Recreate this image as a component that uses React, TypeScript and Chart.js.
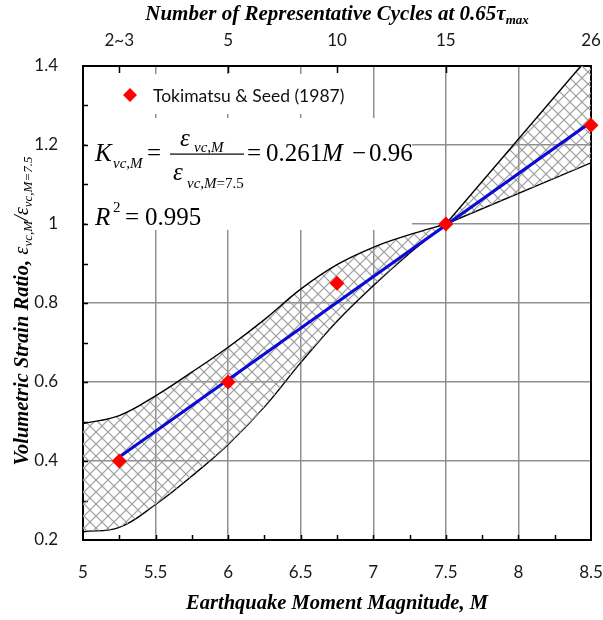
import React, { useEffect, useRef } from 'react';
import { Chart, registerables } from 'chart.js';

Chart.register(...registerables);

// Tokimatsu & Seed (1987) points
const magnitudes = [5.25, 6, 6.75, 7.5, 8.5];
const strainRatios = [0.4, 0.6, 0.85, 1.0, 1.25];

// Regression line K = 0.261M - 0.96, evaluated at the ends of the data
const fitM = [5.25, 8.5];
const fitK = [0.41, 1.258];

// Curved part of the scatter band (M = 5 .. 7.5)
const bandM = [5, 5.25, 5.5, 5.75, 6, 6.25, 6.5, 6.75, 7, 7.25, 7.5];
const bandUpper = [0.495, 0.515, 0.565, 0.625, 0.688, 0.758, 0.835, 0.897, 0.941, 0.973, 1.0];
const bandLower = [0.221, 0.232, 0.29, 0.362, 0.442, 0.537, 0.649, 0.754, 0.844, 0.926, 1.0];

// Straight fan beyond M = 7.5
const fanM = [7.5, 8.5];
const fanUpper = [1.0, 1.43];
const fanLower = [1.0, 1.155];

// Secondary axis: number of representative cycles
const cycleM = [5.25, 6, 6.75, 7.5, 8.5];
const cycleLabels = ['2~3', '5', '10', '15', '26'];

const SERIF = '"Liberation Serif", "Times New Roman", serif';
const SANS = 'Lato, Calibri, "Noto Sans", sans-serif';
const GRID = '#8f8f8f';

function makeHatch(): CanvasPattern | string {
  const c = document.createElement('canvas');
  const s = 12;
  c.width = s;
  c.height = s;
  const g = c.getContext('2d');
  if (!g) return '#ccc';
  g.strokeStyle = '#9c9c9c';
  g.lineWidth = 1.2;
  for (const k of [-s, 0, s]) {
    g.beginPath();
    g.moveTo(-2 + k, -2);
    g.lineTo(s + 2 + k, s + 2);
    g.stroke();
  }
  for (const k of [0, s, 2 * s]) {
    g.beginPath();
    g.moveTo(k + 2, -2);
    g.lineTo(k - s - 2, s + 2);
    g.stroke();
  }
  return g.createPattern(c, 'repeat') || '#ccc';
}

type Run = { t: string; font: string; dy?: number };

function runsWidth(ctx: CanvasRenderingContext2D, runs: Run[]) {
  let w = 0;
  for (const r of runs) {
    ctx.font = r.font;
    w += ctx.measureText(r.t).width;
  }
  return w;
}

function drawRuns(ctx: CanvasRenderingContext2D, runs: Run[], x: number, y: number) {
  let cx = x;
  for (const r of runs) {
    ctx.font = r.font;
    ctx.fillText(r.t, cx, y + (r.dy || 0));
    cx += ctx.measureText(r.t).width;
  }
}

function text(ctx: CanvasRenderingContext2D, t: string, x: number, y: number, font: string) {
  ctx.font = font;
  ctx.fillText(t, x, y);
}

const decorPlugin = {
  id: 'decor',
  beforeDatasetsDraw(chart: any) {
    const { ctx, chartArea: a } = chart;
    ctx.save();
    // white text boxes over the grid
    ctx.fillStyle = '#fff';
    ctx.fillRect(90, 74, 275, 40);
    ctx.fillRect(86, 118, 326, 112);
    // plot frame
    ctx.strokeStyle = '#000';
    ctx.lineWidth = 2;
    ctx.strokeRect(a.left, a.top, a.right - a.left, a.bottom - a.top);
    // inner tick marks
    const xs = chart.scales.x;
    const ys = chart.scales.y;
    ctx.lineWidth = 1.5;
    ctx.beginPath();
    for (let m = 5.25; m < 8.5; m += 0.25) {
      const px = Math.round(xs.getPixelForValue(m)) + 0.5;
      ctx.moveTo(px, a.bottom);
      ctx.lineTo(px, a.bottom - 5);
    }
    for (let i = 3; i < 14; i++) {
      const py = Math.round(ys.getPixelForValue(i / 10)) + 0.5;
      ctx.moveTo(a.left, py);
      ctx.lineTo(a.left + 5, py);
    }
    for (const m of cycleM.slice(0, -1)) {
      const px = Math.round(xs.getPixelForValue(m)) + 0.5;
      ctx.moveTo(px, a.top);
      ctx.lineTo(px, a.top + 7);
    }
    ctx.stroke();
    ctx.restore();
  },
  afterDatasetsDraw(chart: any) {
    const { ctx } = chart;
    ctx.save();
    ctx.fillStyle = '#000';
    ctx.textBaseline = 'alphabetic';
    ctx.textAlign = 'left';

    // legend
    ctx.fillStyle = '#ff0000';
    ctx.beginPath();
    ctx.moveTo(130, 88);
    ctx.lineTo(137, 95);
    ctx.lineTo(130, 102);
    ctx.lineTo(123, 95);
    ctx.closePath();
    ctx.fill();
    ctx.fillStyle = '#111';
    ctx.textBaseline = 'middle';
    text(ctx, 'Tokimatsu & Seed (1987)', 153, 96, `17.5px ${SANS}`);
    ctx.fillStyle = '#000';
    ctx.textBaseline = 'alphabetic';

    // regression equation
    const big = `25px ${SERIF}`;
    const bigI = `italic 25px ${SERIF}`;
    const sub = `italic 15px ${SERIF}`;
    const subR = `15px ${SERIF}`;
    text(ctx, 'K', 95, 161, bigI);
    text(ctx, 'vc,M', 113, 168, sub);
    text(ctx, '=', 147, 161, big);
    text(ctx, 'ε', 180, 146, bigI);
    text(ctx, 'vc,M', 194, 152, sub);
    ctx.fillRect(170, 153.5, 74, 1.2);
    text(ctx, 'ε', 173, 180, bigI);
    drawRuns(ctx, [{ t: 'vc,M', font: sub }, { t: '=7.5', font: subR }], 187, 188);
    text(ctx, '=', 247, 161, big);
    text(ctx, '0.261', 266, 161, big);
    text(ctx, 'M', 322, 161, bigI);
    text(ctx, '−', 352, 161, big);
    text(ctx, '0.96', 369, 161, big);

    text(ctx, 'R', 95, 225, bigI);
    text(ctx, '2', 113, 212, subR);
    text(ctx, '=', 125, 225, big);
    text(ctx, '0.995', 145, 225, big);
    ctx.restore();
  },
  afterDraw(chart: any) {
    const { ctx, chartArea: a } = chart;
    ctx.save();
    ctx.fillStyle = '#000';
    ctx.textBaseline = 'alphabetic';
    ctx.textAlign = 'left';
    const tbTop = `bold italic 21px ${SERIF}`;
    const tbTopSub = `bold italic 13px ${SERIF}`;
    const tb = `bold italic 20.5px ${SERIF}`;
    const cx = (a.left + a.right) / 2;

    // top title
    const top: Run[] = [
      { t: 'Number of Representative Cycles at 0.65τ', font: tbTop },
      { t: 'max', font: tbTopSub, dy: 4 },
    ];
    drawRuns(ctx, top, cx - runsWidth(ctx, top) / 2, 20);

    // bottom title
    const bottom: Run[] = [{ t: 'Earthquake Moment Magnitude, M', font: tb }];
    drawRuns(ctx, bottom, cx - runsWidth(ctx, bottom) / 2, 609);

    // left title, rotated
    const it = `italic 20.5px ${SERIF}`;
    const its = `italic 13px ${SERIF}`;
    const left: Run[] = [
      { t: 'Volumetric Strain Ratio, ', font: tb },
      { t: 'ε', font: it },
      { t: 'vc,M', font: its, dy: 4 },
      { t: '/', font: it },
      { t: 'ε', font: it },
      { t: 'vc,M=7.5', font: its, dy: 4 },
    ];
    ctx.translate(28, (a.top + a.bottom) / 2 + 8);
    ctx.rotate(-Math.PI / 2);
    drawRuns(ctx, left, -runsWidth(ctx, left) / 2, 0);
    ctx.restore();
  },
};

export default function App() {
  const ref = useRef<HTMLCanvasElement | null>(null);

  useEffect(() => {
    const canvas = ref.current;
    if (!canvas) return;
    const hatch = makeHatch();
    const tickFont = { family: SANS, size: 17 };
    const fmt = (v: any) => String(Number(Number(v).toFixed(2)));

    const chart = new Chart(canvas, {
      type: 'line',
      data: {
        datasets: [
          {
            label: 'Tokimatsu & Seed (1987)',
            data: magnitudes.map((m, i) => ({ x: m, y: strainRatios[i] })),
            showLine: false,
            pointStyle: 'rectRot',
            pointRadius: 7.5,
            pointBackgroundColor: '#ff0000',
            pointBorderColor: '#ff0000',
            pointBorderWidth: 0,
            clip: false,
          } as any,
          {
            label: 'fit',
            data: fitM.map((m, i) => ({ x: m, y: fitK[i] })),
            borderColor: '#0b0bd6',
            borderWidth: 3,
            pointRadius: 0,
            fill: false,
          },
          {
            label: 'band upper',
            data: bandM.map((m, i) => ({ x: m, y: bandUpper[i] })),
            borderColor: '#000',
            borderWidth: 1.4,
            pointRadius: 0,
            tension: 0.4,
            backgroundColor: hatch as any,
            fill: '+1',
          },
          {
            label: 'band lower',
            data: bandM.map((m, i) => ({ x: m, y: bandLower[i] })),
            borderColor: '#000',
            borderWidth: 1.4,
            pointRadius: 0,
            tension: 0.4,
            fill: false,
          },
          {
            label: 'fan upper',
            data: fanM.map((m, i) => ({ x: m, y: fanUpper[i] })),
            borderColor: '#000',
            borderWidth: 1.4,
            pointRadius: 0,
            tension: 0,
            backgroundColor: hatch as any,
            fill: '+1',
          },
          {
            label: 'fan lower',
            data: fanM.map((m, i) => ({ x: m, y: fanLower[i] })),
            borderColor: '#000',
            borderWidth: 1.4,
            pointRadius: 0,
            tension: 0,
            fill: false,
          },
        ],
      },
      options: {
        animation: false,
        responsive: false,
        devicePixelRatio: 1,
        layout: { padding: { left: 0, right: 12, top: 0, bottom: 0 } },
        plugins: {
          legend: { display: false },
          tooltip: { enabled: false },
        },
        scales: {
          x: {
            type: 'linear',
            position: 'bottom',
            min: 5,
            max: 8.5,
            ticks: {
              stepSize: 0.5,
              autoSkip: false,
              maxRotation: 0,
              padding: 22,
              color: '#1a1a1a',
              font: tickFont,
              callback: fmt,
            },
            grid: {
              drawTicks: false,
              lineWidth: 1.5,
              color: (c: any) => {
                const v = c.tick ? c.tick.value : 0;
                return v > 5.01 && v < 8.49 ? GRID : 'rgba(0,0,0,0)';
              },
            },
            border: { display: false },
            afterFit: (s: any) => {
              s.height = 80;
              s.paddingLeft = 0;
              s.paddingRight = 0;
            },
          },
          xTop: {
            type: 'linear',
            position: 'top',
            min: 5,
            max: 8.5,
            afterBuildTicks: (s: any) => {
              s.ticks = cycleM.map((v) => ({ value: v }));
            },
            ticks: {
              autoSkip: false,
              maxRotation: 0,
              padding: 7,
              color: '#1a1a1a',
              font: tickFont,
              callback: (v: any) => cycleLabels[cycleM.indexOf(Number(v))] ?? '',
            },
            grid: { display: false },
            border: { display: false },
            afterFit: (s: any) => {
              s.height = 66;
              s.paddingLeft = 0;
              s.paddingRight = 0;
            },
          },
          y: {
            type: 'linear',
            min: 0.2,
            max: 1.4,
            ticks: {
              stepSize: 0.2,
              padding: 25,
              color: '#1a1a1a',
              font: tickFont,
              callback: fmt,
            },
            grid: {
              drawTicks: false,
              lineWidth: 1.5,
              color: (c: any) => {
                const v = c.tick ? c.tick.value : 0;
                return v > 0.21 && v < 1.39 ? GRID : 'rgba(0,0,0,0)';
              },
            },
            border: { display: false },
            afterFit: (s: any) => {
              s.width = 83;
            },
          },
        },
      } as any,
      plugins: [decorPlugin],
    });
    return () => chart.destroy();
  }, []);

  return (
    <div style={{ position: 'fixed', left: 0, top: 0, width: 603, height: 620, background: '#fff' }}>
      <canvas ref={ref} width={603} height={620} />
    </div>
  );
}
